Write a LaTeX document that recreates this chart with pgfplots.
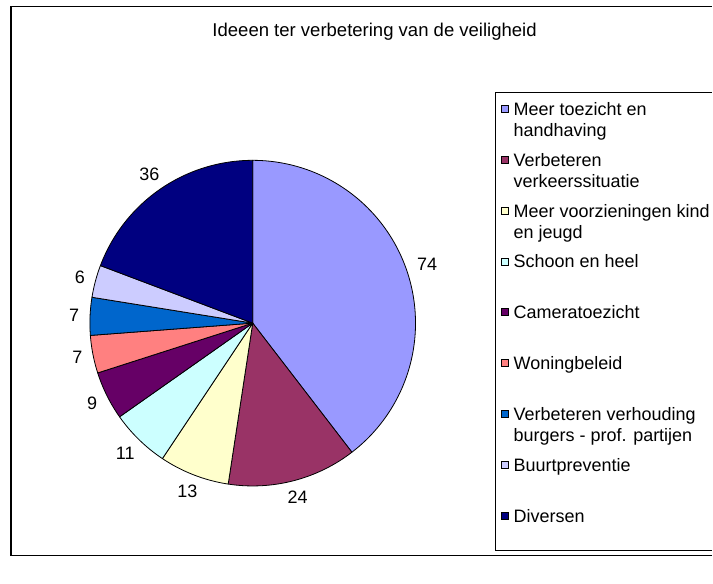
\documentclass[border=0pt]{standalone}
\usepackage{pgfplots}
\pgfplotsset{compat=1.18}
\usepackage{pgfplotstable}
\usepackage{fontspec}
\setmainfont{Liberation Sans}

\definecolor{c0}{HTML}{9999FF}
\definecolor{c1}{HTML}{993366}
\definecolor{c2}{HTML}{FFFFCC}
\definecolor{c3}{HTML}{CCFFFF}
\definecolor{c4}{HTML}{660066}
\definecolor{c5}{HTML}{FF8080}
\definecolor{c6}{HTML}{0066CC}
\definecolor{c7}{HTML}{CCCCFF}
\definecolor{c8}{HTML}{000080}

\pgfplotstableread{
value
74
24
13
11
9
7
7
6
36
}\piedata

\newcommand\lfont{\fontsize{13.5}{16}\selectfont}

\begin{document}
\begin{tikzpicture}[x=0.75pt,y=0.75pt]
\fill[white] (0,0) rectangle (713,584);
% outer frame (continues past the right edge)
\draw[line width=1.2pt] (713,{584-556}) -- (11,{584-556}) -- (11,{584-6.5}) -- (713,{584-6.5});
% title
\node[font=\fontsize{13.9}{16}\selectfont, inner sep=0pt] at (375,{584-32}) {Ideeen ter verbetering van de veiligheid};

% total
\def\total{0}
\pgfplotsforeachungrouped \i in {0,...,8}{%
  \pgfplotstablegetelem{\i}{value}\of\piedata
  \pgfmathsetmacro\total{\total+\pgfplotsretval}%
}
\pgfmathsetmacro\degper{360/\total}

\begin{axis}[
  at={(189.75pt,195.375pt)}, anchor=center,
  scale only axis, width=244.5pt, height=244.5pt,
  xmin=-1, xmax=1, ymin=-1, ymax=1,
  hide axis, clip=false,
]
\def\cum{0}
\pgfplotsforeachungrouped \i in {0,...,8}{%
  \pgfplotstablegetelem{\i}{value}\of\piedata
  \let\v\pgfplotsretval
  \pgfmathsetmacro\a{90-\degper*\cum}%
  \pgfmathsetmacro\b{90-\degper*(\cum+\v)}%
  \pgfmathsetmacro\m{(\a+\b)/2}%
  \pgfmathsetmacro\an{\m+180}%
  \pgfmathsetmacro\cum{\cum+\v}%
  \edef\temp{%
    \noexpand\addplot[draw=black, line width=0.6pt, line join=round, fill=c\i, domain=\b:\a, samples=90]
      ({cos(x)},{sin(x)}) -- (axis cs:0,0) -- cycle;
    \noexpand\node[font=\noexpand\lfont, inner sep=0pt, anchor=\an]
      at (axis cs:{1.065*cos(\m)},{1.065*sin(\m)}) {\v};
  }%
  \temp
}
\end{axis}

% legend (continues past the right edge)
\draw[line width=0.6pt] (713,{584-551}) -- (496,{584-551}) -- (496,{584-92.5}) -- (713,{584-92.5});
\foreach \k/\col/\la/\lb in {
  0/c0/{Meer toezicht en}/{handhaving},
  1/c1/{Verbeteren}/{verkeerssituatie},
  2/c2/{Meer voorzieningen kind}/{en jeugd},
  3/c3/{Schoon en heel}/{},
  4/c4/{Cameratoezicht}/{},
  5/c5/{Woningbeleid}/{},
  6/c6/{Verbeteren verhouding}/{burgers - prof. partijen},
  7/c7/{Buurtpreventie}/{},
  8/c8/{Diversen}/{}}{
  \pgfmathsetmacro\yc{584-109-50.9*\k}
  \draw[fill=\col, line width=0.5pt] (501.5,\yc-3.5) rectangle (508.5,\yc+3.5);
  \node[font=\lfont, inner sep=0pt, anchor=base west] at (514,\yc-6.5) {\la};
  \node[font=\lfont, inner sep=0pt, anchor=base west] at (514,\yc-28) {\lb};
}
\end{tikzpicture}
\end{document}
